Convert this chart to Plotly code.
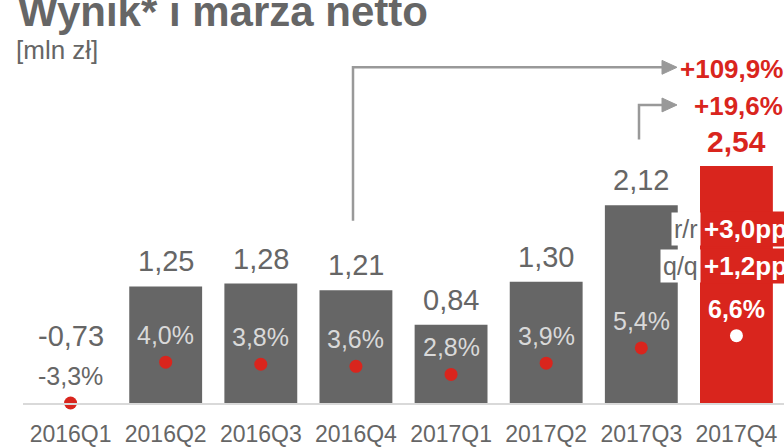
import plotly.graph_objects as go

# ---- data ----
quarters = ["2016Q1", "2016Q2", "2016Q3", "2016Q4", "2017Q1", "2017Q2", "2017Q3", "2017Q4"]
result_mln = [-0.73, 1.25, 1.28, 1.21, 0.84, 1.30, 2.12, 2.54]
net_margin_pct = [-3.3, 4.0, 3.8, 3.6, 2.8, 3.9, 5.4, 6.6]
yoy_change = "+109,9%"
qoq_change = "+19,6%"
margin_yoy = "+3,0pp"
margin_qoq = "+1,2pp"
title_text = "Wynik* i marża netto"
unit_text = "[mln zł]"

GRAY = "#666666"
RED = "#d9251d"
LIGHT = "#d9d9d9"
ARROW = "#999999"
FONT = "Liberation Sans, Arial, sans-serif"

W, H = 784, 447
# plot area in page pixels: x 23..784, y 0..407
ML, MT = 23, 0
PW, PH = W - ML, 407
MR = 0
MB = H - MT - PH

def fmt(v, d):
    return f"{v:.{d}f}".replace(".", ",")

def px(p):  # page x pixel -> paper
    return (p - ML) / PW

def py(p):  # page y pixel -> paper
    return (MT + PH - p) / PH

n = len(quarters)
bar_colors = [GRAY] * (n - 1) + [RED]
dot_colors = [RED] * (n - 1) + ["white"]
bar_vals = result_mln
dot_vals = [max(m, 0) for m in net_margin_pct]  # negative margin sits on the baseline

fig = go.Figure()
fig.add_trace(go.Bar(x=quarters, y=bar_vals, marker=dict(color=bar_colors, line=dict(width=0)),
                     yaxis="y", hoverinfo="skip"))
fig.add_trace(go.Scatter(x=quarters, y=dot_vals, mode="markers", yaxis="y2",
                         marker=dict(size=13, color=dot_colors), cliponaxis=False, hoverinfo="skip"))

ann = []
for i, q in enumerate(quarters):
    v = result_mln[i]
    m = net_margin_pct[i]
    last = i == n - 1
    vt = fmt(v, 2)
    ann.append(dict(x=q, y=max(v, 0), xref="x", yref="y",
                    text=("<b>" + vt + "</b>") if last else vt, showarrow=False,
                    yanchor="middle", yshift=(67 if v < 0 else 25),
                    font=dict(family=FONT, size=30 if last else 29,
                              color=RED if last else GRAY)))
    if last:
        mcol, mtxt = "white", "<b>" + fmt(m, 1) + "%</b>"
    elif m < 0:
        mcol, mtxt = GRAY, fmt(m, 1) + "%"
    else:
        mcol, mtxt = LIGHT, fmt(m, 1) + "%"
    ann.append(dict(x=q, y=max(m, 0), xref="x", yref="y2", text=mtxt, showarrow=False,
                    yanchor="middle", yshift=27,
                    font=dict(family=FONT, size=25, color=mcol)))

# title & unit
ann.append(dict(x=px(16), y=py(12), xref="paper", yref="paper", text="<b>" + title_text + "</b>",
                showarrow=False, xanchor="left", yanchor="middle",
                font=dict(family=FONT, size=42, color=GRAY)))
ann.append(dict(x=px(14), y=py(50), xref="paper", yref="paper", text=unit_text,
                showarrow=False, xanchor="left", yanchor="middle",
                font=dict(family=FONT, size=26, color=GRAY)))

# change labels
ann.append(dict(x=px(678), y=py(70), xref="paper", yref="paper", text="<b>" + yoy_change + "</b>",
                showarrow=False, xanchor="left", yanchor="middle",
                font=dict(family=FONT, size=26, color=RED)))
ann.append(dict(x=px(692), y=py(107), xref="paper", yref="paper", text="<b>" + qoq_change + "</b>",
                showarrow=False, xanchor="left", yanchor="middle",
                font=dict(family=FONT, size=26, color=RED)))
for lab, val, yy in (("r/r", margin_yoy, 231), ("q/q", margin_qoq, 269)):
    ann.append(dict(x=px(701), y=py(yy), xref="paper", yref="paper", text=lab,
                    showarrow=False, xanchor="right", yanchor="middle", bgcolor="white", borderpad=2,
                    font=dict(family=FONT, size=25, color=GRAY)))
    ann.append(dict(x=px(701), y=py(yy), xref="paper", yref="paper", text="<b>" + val + "</b>",
                    showarrow=False, xanchor="left", yanchor="middle", bgcolor=RED, borderpad=2,
                    font=dict(family=FONT, size=26, color="white")))

shapes = []
shapes.append(dict(type="path", xref="paper", yref="paper",
                   path=f"M {px(353)} {py(223)} L {px(353)} {py(68)} L {px(664)} {py(68)}",
                   line=dict(color=ARROW, width=2.5)))
shapes.append(dict(type="path", xref="paper", yref="paper",
                   path=f"M {px(662)} {py(61)} L {px(677)} {py(68)} L {px(662)} {py(75)} Z",
                   fillcolor=ARROW, line=dict(color=ARROW, width=1)))
shapes.append(dict(type="path", xref="paper", yref="paper",
                   path=f"M {px(639)} {py(141)} L {px(639)} {py(106)} L {px(664)} {py(106)}",
                   line=dict(color=ARROW, width=2.5)))
shapes.append(dict(type="path", xref="paper", yref="paper",
                   path=f"M {px(662)} {py(99)} L {px(677)} {py(106)} L {px(662)} {py(113)} Z",
                   fillcolor=ARROW, line=dict(color=ARROW, width=1)))

# axis ranges keep the reference scale: ~94.2 px per mln zł, ~10.3 px per margin point
fig.update_layout(
    width=W, height=H, autosize=False,
    margin=dict(l=ML, r=MR, t=MT, b=MB, pad=0),
    paper_bgcolor="white", plot_bgcolor="white",
    showlegend=False, bargap=0.234,
    xaxis=dict(type="category", showgrid=False, zeroline=False, showline=True,
               linecolor=LIGHT, linewidth=2, ticks="", ticklabelstandoff=9,
               tickfont=dict(family=FONT, size=23, color=GRAY), fixedrange=True),
    yaxis=dict(range=[0, PH / 94.2], visible=False, fixedrange=True),
    yaxis2=dict(range=[0, PH / 10.3], overlaying="y", visible=False, fixedrange=True),
    annotations=ann, shapes=shapes,
)

fig.write_html("out.html", config={"displayModeBar": False},
               post_script="document.body.style.margin='0';document.body.style.overflow='hidden';")
